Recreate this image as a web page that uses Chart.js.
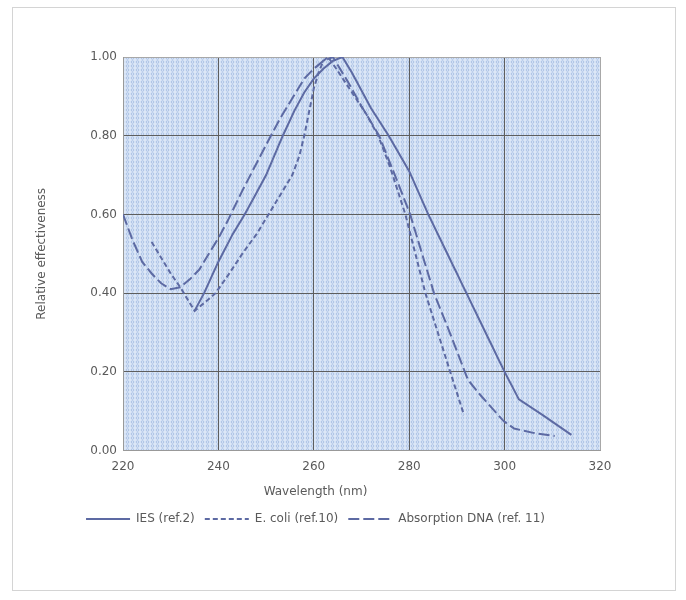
<!DOCTYPE html>
<html>
<head>
<meta charset="utf-8">
<script src="https://cdn.jsdelivr.net/npm/chart.js@4.4.0/dist/chart.umd.min.js"></script>
<style>
  body { margin: 0; background: #fff; }
  .wrap { position: relative; width: 686px; height: 600px; }
  .frame { position: absolute; left: 12px; top: 7px; width: 662px; height: 582px; border: 1px solid #d4d4d4; pointer-events: none; }
</style>
</head>
<body>
<div class="wrap">
  <canvas id="uvChart" width="686" height="600"></canvas>
  <div class="frame"></div>
</div>
<script>
// wavelength ticks (nm) and effectiveness ticks
const xTicks = [220, 240, 260, 280, 300, 320];
const yTicks = [0, 0.2, 0.4, 0.6, 0.8, 1.0];

// IES (ref.2)
const iesX = [235, 237, 240, 243, 245.5, 248, 250, 253.5, 256, 258, 260, 262, 264, 266, 268, 270, 272, 275.7, 280, 284, 288, 292, 296, 300, 303, 308, 314];
const iesY = [0.355, 0.40, 0.48, 0.55, 0.60, 0.655, 0.70, 0.80, 0.865, 0.91, 0.945, 0.97, 0.99, 1.00, 0.96, 0.915, 0.87, 0.80, 0.71, 0.60, 0.50, 0.40, 0.30, 0.20, 0.13, 0.09, 0.04];

// E. coli (ref.10)
const ecoliX = [226, 228, 230, 232, 235, 237, 239.4, 242, 245, 248, 250.5, 253.5, 255.5, 257, 258, 259, 260, 261, 262, 263, 265, 268, 271, 273.5, 276, 279.2, 281.3, 283.4, 286, 288.6, 291.5];
const ecoliY = [0.53, 0.49, 0.45, 0.415, 0.355, 0.375, 0.40, 0.445, 0.50, 0.55, 0.60, 0.66, 0.70, 0.75, 0.80, 0.86, 0.92, 0.96, 0.99, 1.00, 0.965, 0.91, 0.855, 0.80, 0.72, 0.60, 0.50, 0.40, 0.30, 0.20, 0.09];

// Absorption DNA (ref. 11)
const dnaX = [220, 222, 224, 226, 228, 230, 232, 234, 236, 238, 240, 242, 245, 248, 251, 253, 255.5, 258, 260, 262, 264, 267, 270, 273.7, 277, 280.2, 282.7, 285.2, 288.5, 292.3, 295, 299.8, 302, 306, 310.5];
const dnaY = [0.60, 0.535, 0.48, 0.45, 0.425, 0.41, 0.415, 0.435, 0.46, 0.50, 0.54, 0.585, 0.66, 0.73, 0.80, 0.845, 0.895, 0.945, 0.97, 0.99, 1.00, 0.94, 0.875, 0.80, 0.70, 0.60, 0.50, 0.40, 0.30, 0.18, 0.14, 0.075, 0.056, 0.045, 0.037];

const seriesNames = ['IES (ref.2)', 'E. coli (ref.10)', 'Absorption DNA (ref. 11)'];

function pts(xs, ys) {
    return xs.map((x, i) => ({ x: x, y: ys[i] }));
}

// dotted light blue fill of the plot area
function makePattern() {
    let c = document.createElement('canvas');
    c.width = 5; c.height = 4;
    let g = c.getContext('2d');
    g.fillStyle = '#dce7f7';
    g.fillRect(0, 0, 5, 4);
    g.strokeStyle = '#abc2e5';
    g.lineWidth = 1;
    g.beginPath();
    g.arc(2.5, 2, 1.3, 0, Math.PI * 2);
    g.stroke();
    return g.createPattern(c, 'repeat');
}

const plotBg = {
    id: 'plotBg',
    beforeDraw(chart) {
        const a = chart.chartArea;
        const ctx = chart.ctx;
        ctx.save();
        ctx.fillStyle = makePattern();
        ctx.fillRect(a.left, a.top, a.right - a.left, a.bottom - a.top);
        ctx.restore();
    }
};

const lineColor = '#5d6aa3';
const textColor = '#5a5a5a';
Chart.defaults.font.family = '"DejaVu Sans", Verdana, sans-serif';
Chart.defaults.font.size = 12;
Chart.defaults.color = textColor;

const ctx = document.getElementById('uvChart').getContext('2d');
const chart = new Chart(ctx, {
    type: 'scatter',
    data: {
        datasets: [{
            label: seriesNames[0],
            data: pts(iesX, iesY),
            borderColor: lineColor,
            borderWidth: 2,
            showLine: true,
            pointRadius: 0
        }, {
            label: seriesNames[1],
            data: pts(ecoliX, ecoliY),
            borderColor: lineColor,
            borderWidth: 2,
            borderDash: [5, 3],
            showLine: true,
            pointRadius: 0
        }, {
            label: seriesNames[2],
            data: pts(dnaX, dnaY),
            borderColor: lineColor,
            borderWidth: 2,
            borderDash: [11, 4],
            showLine: true,
            pointRadius: 0
        }]
    },
    options: {
        responsive: false,
        animation: false,
        devicePixelRatio: 1,
        layout: {
            padding: { left: 31, right: 86, top: 57, bottom: 65 }
        },
        scales: {
            x: {
                type: 'linear',
                min: xTicks[0],
                max: xTicks[xTicks.length - 1],
                afterBuildTicks: (s) => { s.ticks = xTicks.map(v => ({ value: v })); },
                afterFit: (s) => { s.height = 30; },
                ticks: { padding: 9, color: textColor },
                grid: {
                    drawTicks: false,
                    color: (c) => c.index === xTicks.length - 1 ? '#a8a8a8' : '#5e5e5e',
                    lineWidth: 1
                },
                border: { color: '#999999' }
            },
            y: {
                min: 0,
                max: 1,
                afterBuildTicks: (s) => { s.ticks = yTicks.map(v => ({ value: v })); },
                afterFit: (s) => { s.width = 92; },
                ticks: {
                    padding: 6,
                    color: textColor,
                    callback: (v) => Number(v).toFixed(2)
                },
                grid: {
                    drawTicks: false,
                    color: (c) => c.index === yTicks.length - 1 ? '#a8a8a8' : '#5e5e5e',
                    lineWidth: 1
                },
                border: { color: '#999999' },
                title: {
                    display: true,
                    text: 'Relative effectiveness',
                    color: textColor,
                    padding: { top: 4, bottom: 4 }
                }
            }
        },
        plugins: {
            title: {
                display: true,
                text: 'Wavelength (nm)',
                position: 'bottom',
                weight: 500,
                color: textColor,
                font: { size: 12, weight: 'normal' },
                padding: { top: 4, bottom: 4 }
            },
            legend: {
                position: 'bottom',
                labels: {
                    usePointStyle: true,
                    pointStyle: 'line',
                    pointStyleWidth: 44,
                    padding: 10,
                    color: textColor,
                    generateLabels: (chart) => {
                        const items = Chart.defaults.plugins.legend.labels.generateLabels(chart);
                        items.forEach((it) => {
                            const ds = chart.data.datasets[it.datasetIndex];
                            it.lineDash = ds.borderDash || [];
                            it.lineWidth = 2;
                            it.strokeStyle = lineColor;
                        });
                        return items;
                    }
                }
            },
            tooltip: { enabled: false }
        }
    },
    plugins: [plotBg]
});
</script>
</body>
</html>
